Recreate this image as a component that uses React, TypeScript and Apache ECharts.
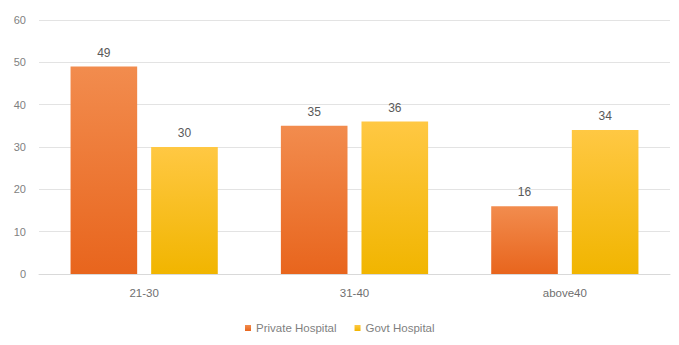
import React, { useEffect, useRef } from "react";
import * as echarts from "echarts";

const categories = ["21-30", "31-40", "above40"];
const privateHospital = [49, 35, 16];
const govtHospital = [30, 36, 34];
const seriesNames = ["Private Hospital", "Govt Hospital"];

const grad = (top: string, bottom: string) =>
  new echarts.graphic.LinearGradient(0, 0, 0, 1, [
    { offset: 0, color: top },
    { offset: 1, color: bottom },
  ]);

export default function App() {
  const ref = useRef<HTMLDivElement>(null);

  useEffect(() => {
    if (!ref.current) return;
    const chart = echarts.init(ref.current, null, { renderer: "svg" });
    const labelStyle = {
      show: true,
      position: "top" as const,
      color: "#595959",
      fontSize: 12,
      fontFamily: "Liberation Sans",
      distance: 8,
    };
    chart.setOption({
      animation: false,
      backgroundColor: "#ffffff",
      grid: { left: 39, right: 9, top: 20, bottom: 71, containLabel: false },
      legend: {
        top: 317,
        left: 240,
        itemWidth: 6,
        itemHeight: 6,
        itemGap: 18,
        icon: "rect",
        textStyle: { color: "#7f7f7f", fontSize: 11.5, fontFamily: "Liberation Sans" },
        data: seriesNames,
      },
      xAxis: {
        type: "category",
        data: categories,
        axisLine: { lineStyle: { color: "#d9d9d9" } },
        axisTick: { show: false },
        axisLabel: { color: "#6f6f6f", fontSize: 11.5, fontFamily: "Liberation Sans", margin: 13 },
      },
      yAxis: {
        type: "value",
        min: 0,
        max: 60,
        interval: 10,
        axisLine: { show: false },
        axisTick: { show: false },
        splitLine: { lineStyle: { color: "#e3e3e3" } },
        axisLabel: { color: "#7f7f7f", fontSize: 11, fontFamily: "Liberation Sans", margin: 13 },
      },
      series: [
        {
          name: seriesNames[0],
          type: "bar",
          data: privateHospital,
          barGap: "21%",
          barCategoryGap: "30%",
          itemStyle: { color: grad("#f28c4e", "#e8651d") },
          label: labelStyle,
        },
        {
          name: seriesNames[1],
          type: "bar",
          data: govtHospital,
          barGap: "21%",
          barCategoryGap: "30%",
          itemStyle: { color: grad("#ffc843", "#f1b500") },
          label: labelStyle,
        },
      ],
    });
    return () => chart.dispose();
  }, []);

  return <div ref={ref} style={{ width: 679, height: 345, position: "absolute", left: 0, top: 0 }} />;
}
